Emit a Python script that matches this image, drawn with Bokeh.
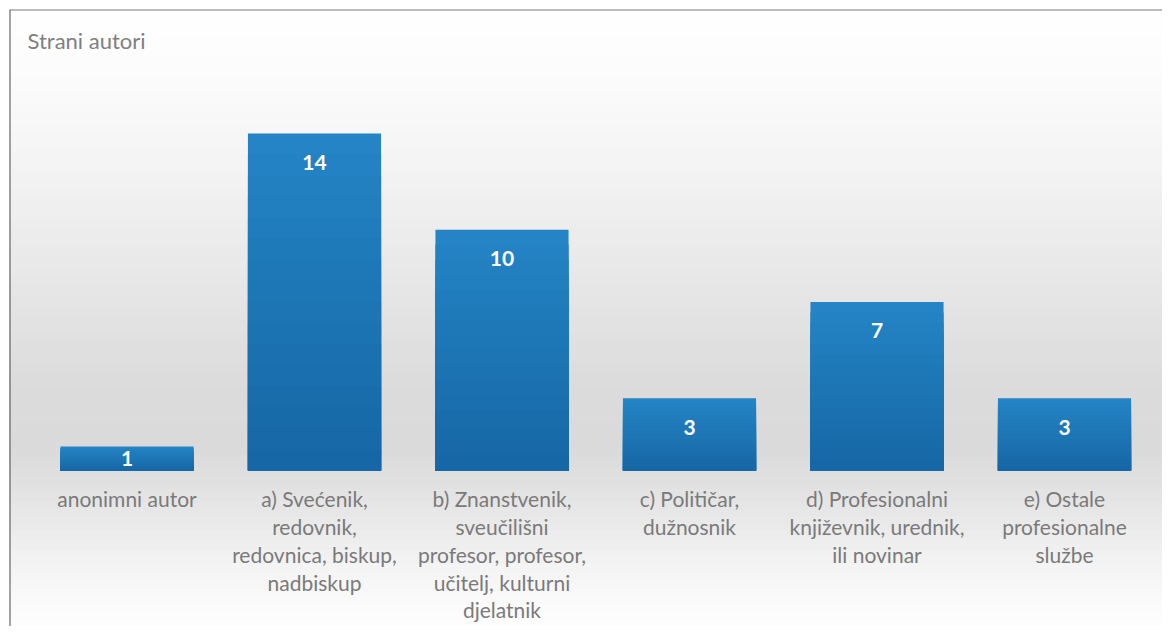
import numpy as np
from bokeh.plotting import figure
from bokeh.models import Range1d, Span
from bokeh.embed import file_html
from bokeh.resources import INLINE
from bokeh.core.properties import value

# ---- data ----
categories = [
    "anonimni autor",
    "a) Svećenik,\nredovnik,\nredovnica, biskup,\nnadbiskup",
    "b) Znanstvenik,\nsveučilišni\nprofesor, profesor,\nučitelj, kulturni\ndjelatnik",
    "c) Političar,\ndužnosnik",
    "d) Profesionalni\nknjiževnik, urednik,\nili novinar",
    "e) Ostale\nprofesionalne\nslužbe",
]
counts = [1, 14, 10, 3, 7, 3]
title_text = "Strani autori"

# ---- layout ----
W, H = 1162, 626
BL, BT = 9, 9                      # offset of the chart box
FW, FH = W - BL, H - BT            # frame size
px_per_unit = 24.07
baseline_px = 461.0                # from frame top
x0_px, step_px = 117.5, 187.5      # from frame left
x_start = -x0_px / step_px
x_end = (FW - x0_px) / step_px
y_end = baseline_px / px_per_unit
y_start = -(FH - baseline_px) / px_per_unit

p = figure(width=W, height=H, x_range=Range1d(x_start, x_end),
           y_range=Range1d(y_start, y_end), output_backend="svg",
           toolbar_location=None, min_border_left=BL, min_border_top=BT,
           min_border_right=0, min_border_bottom=0,
           x_axis_location=None, y_axis_location=None)
p.grid.visible = False
p.outline_line_color = None
p.background_fill_color = "white"
p.border_fill_color = "white"

# background vertical gradient (styling)
stops_px = [0, 80, 180, 280, 380, 440, 490, 550, 600, 626]
stops_g = [255, 251, 241, 230, 219, 218, 228, 242, 251, 255]
n = 90
edges = np.linspace(0, FH, n + 1)
mids = (edges[:-1] + edges[1:]) / 2
greys = np.interp(mids, stops_px, stops_g).round().astype(int)
bg_cols = ["#%02x%02x%02x" % (g, g, g) for g in greys]
p.quad(left=x_start, right=x_end,
       top=list(y_end - edges[:-1] / px_per_unit),
       bottom=list(y_end - edges[1:] / px_per_unit),
       fill_color=bg_cols, line_color=bg_cols, line_width=1)

# chart box border (left and top edges visible in the reference)
p.add_layout(Span(location=x_start, dimension="height",
                  line_color="#4a4a4a", line_width=2))
p.add_layout(Span(location=y_end, dimension="width",
                  line_color="#7a7a7a", line_width=2))

# bars with vertical gradient (nested bars derived from counts)
xs = list(range(len(categories)))
top_rgb = np.array([0x24, 0x84, 0xc5])
bot_rgb = np.array([0x16, 0x67, 0xa5])
k = 16
for j in range(k):
    frac = (k - j) / k
    c = (top_rgb + (bot_rgb - top_rgb) * j / (k - 1)).round().astype(int)
    col = "#%02x%02x%02x" % tuple(c)
    p.vbar(x=xs, width=0.71, bottom=0, top=[v * frac for v in counts],
           fill_color=col, line_color=None)

# value labels
lab_y = [max(v - 1.2, v / 2) for v in counts]
p.text(x=xs, y=lab_y, text=[str(v) for v in counts], text_align="center",
       text_baseline="middle", text_color="white",
       text_font=value("Lato"), text_font_style="bold", text_font_size="21px")

# category labels
p.text(x=xs, y=[-0.66] * len(xs), text=categories, text_align="center",
       text_baseline="top", text_color="#7a7a7a", text_font=value("Lato"),
       text_font_size="21px", text_line_height=1.11)

# title
p.text(x=[x_start + 18 / step_px], y=[y_end - 31 / px_per_unit], text=[title_text],
       text_align="left", text_baseline="middle", text_color="#7f7f7f",
       text_font=value("Lato"), text_font_size="22px")

open("out.html", "w").write(file_html(p, INLINE))
